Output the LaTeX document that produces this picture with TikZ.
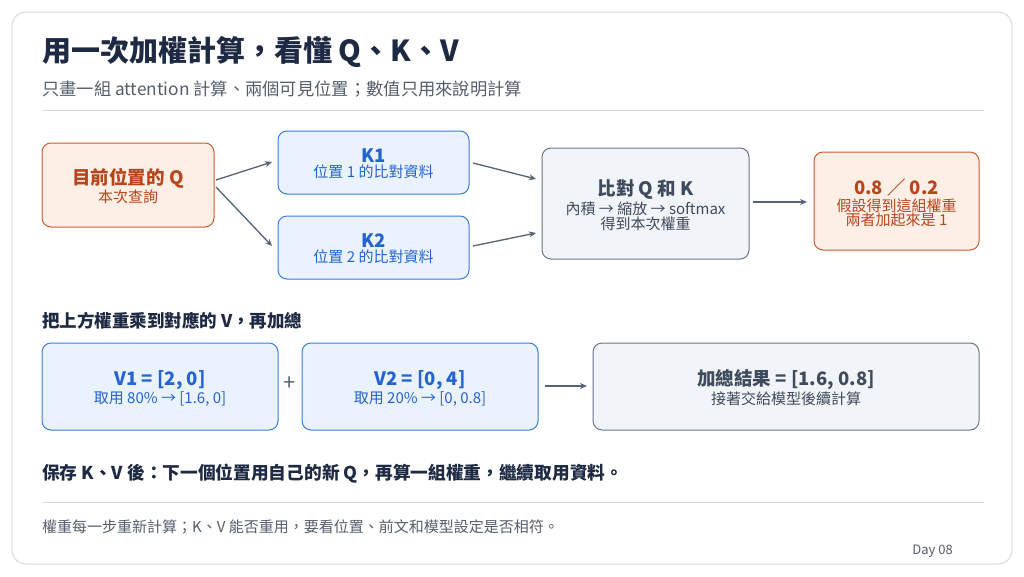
\documentclass[tikz,border=0pt]{standalone}
\usepackage{fontspec}
\setmainfont{Noto Sans CJK TC}
\usetikzlibrary{arrows.meta}
\definecolor{navy}{HTML}{1E2A44}
\definecolor{sub}{HTML}{555E6C}
\definecolor{ofill}{HTML}{FDEEE6}\definecolor{oline}{HTML}{CC5A30}\definecolor{otext}{HTML}{B8461C}
\definecolor{bfill}{HTML}{EAF2FE}\definecolor{bline}{HTML}{3B7BE0}\definecolor{btext}{HTML}{2563D0}
\definecolor{gfill}{HTML}{F1F4F8}\definecolor{gline}{HTML}{6B7689}\definecolor{gtext}{HTML}{3F4A5C}
\definecolor{arr}{HTML}{566275}
\newcommand{\bt}{\fontsize{18.5}{22}\selectfont\bfseries}
\newcommand{\st}{\fontsize{15}{22}\selectfont}
\begin{document}
\begin{tikzpicture}[x=1pt,y=-1pt,
 box/.style={draw,rounded corners=9pt,line width=1pt},
 ob/.style={box,fill=ofill,draw=oline},
 bb/.style={box,fill=bfill,draw=bline},
 gb/.style={box,fill=gfill,draw=gline},
 lbl/.style={align=center,inner sep=0pt},
 ar/.style={draw=arr,line width=1.3pt,-{Stealth[length=7pt,width=6pt]}}]
\useasboundingbox (0,0) rectangle (1024,576);
\fill[white] (0,0) rectangle (1024,576);
\draw[rounded corners=14pt,draw=black!15,line width=1pt] (12,12) rectangle (1012,564);
\node[anchor=west,inner sep=0pt,text=navy,font=\fontsize{29}{33}\selectfont\bfseries] (title) at (42,52) {用一次加權計算，看懂 Q、K、V};
\node[anchor=west,inner sep=0pt,text=sub,font=\fontsize{17.3}{20}\selectfont] (subt) at (42,89) {只畫一組 attention 計算、兩個可見位置；數值只用來說明計算};
\draw[black!15,line width=1pt] (42,110) -- (984,110);
% top row
\draw[ob] (42,143) rectangle (214,227);
\node[lbl,text=otext] (q) at (128,186) {{\bt 目前位置的 Q}\\[1pt]{\st 本次查詢}};
\draw[bb] (278,131) rectangle (469,194);
\node[lbl,text=btext] (k1) at (373.5,164) {{\bt K1}\\[1pt]{\st 位置 1 的比對資料}};
\draw[bb] (278,216) rectangle (469,279);
\node[lbl,text=btext] (k2) at (373.5,249) {{\bt K2}\\[1pt]{\st 位置 2 的比對資料}};
\draw[gb] (542,148) rectangle (749,259);
\node[lbl,text=gtext] (cmp) at (645.5,205) {{\bt 比對 Q 和 K}\\[1pt]{\st 內積 → 縮放 → softmax}\\{\st 得到本次權重}};
\draw[ob] (814,152) rectangle (979,250);
\node[lbl,text=otext] (w) at (896.5,203) {{\bt 0.8 ／ 0.2}\\[1pt]{\st 假設得到這組權重}\\{\st 兩者加起來是 1}};
\coordinate (a1) at (216,180); \coordinate (a1e) at (272,162);
\coordinate (a2) at (216,187); \coordinate (a2e) at (272,246);
\coordinate (a3) at (473,163); \coordinate (a3e) at (536,179);
\coordinate (a4) at (473,246); \coordinate (a4e) at (536,233);
\coordinate (a5) at (753,202); \coordinate (a5e) at (807,202);
\draw[ar] (a1) -- (a1e); \draw[ar] (a2) -- (a2e);
\draw[ar] (a3) -- (a3e); \draw[ar] (a4) -- (a4e);
\draw[ar] (a5) -- (a5e);
% second section
\node[anchor=west,inner sep=0pt,text=navy,font=\fontsize{17.5}{20}\selectfont\bfseries] (sec) at (42,321) {把上方權重乘到對應的 V，再加總};
\draw[bb] (42,343) rectangle (278,430);
\node[lbl,text=btext] (v1) at (160,388) {{\bt V1 = [2, 0]}\\[1pt]{\st 取用 80\% → [1.6, 0]}};
\node[text=arr,font=\fontsize{22}{24}\selectfont,inner sep=0pt] (plus) at (290,384) {+};
\draw[bb] (302,343) rectangle (538,430);
\node[lbl,text=btext] (v2) at (420,388) {{\bt V2 = [0, 4]}\\[1pt]{\st 取用 20\% → [0, 0.8]}};
\draw[gb] (593,343) rectangle (979,430);
\node[lbl,text=gtext] (res) at (786,388) {{\bt 加總結果 = [1.6, 0.8]}\\[1pt]{\st 接著交給模型後續計算}};
\coordinate (b1) at (545,386); \coordinate (b1e) at (587,386);
\draw[ar] (b1) -- (b1e);
\node[anchor=west,inner sep=0pt,text=navy,font=\fontsize{17.7}{20}\selectfont\bfseries] (keep) at (42,474) {保存 K、V 後：下一個位置用自己的新 Q，再算一組權重，繼續取用資料。};
\draw[black!15,line width=1pt] (42,502) -- (984,502);
\node[anchor=west,inner sep=0pt,text=sub,font=\fontsize{15}{17}\selectfont] (foot) at (42,527) {權重每一步重新計算；K、V 能否重用，要看位置、前文和模型設定是否相符。};
\node[anchor=east,inner sep=0pt,text=sub,font=\fontsize{13}{15}\selectfont] (day) at (953,551) {Day 08};
\end{tikzpicture}
\end{document}
